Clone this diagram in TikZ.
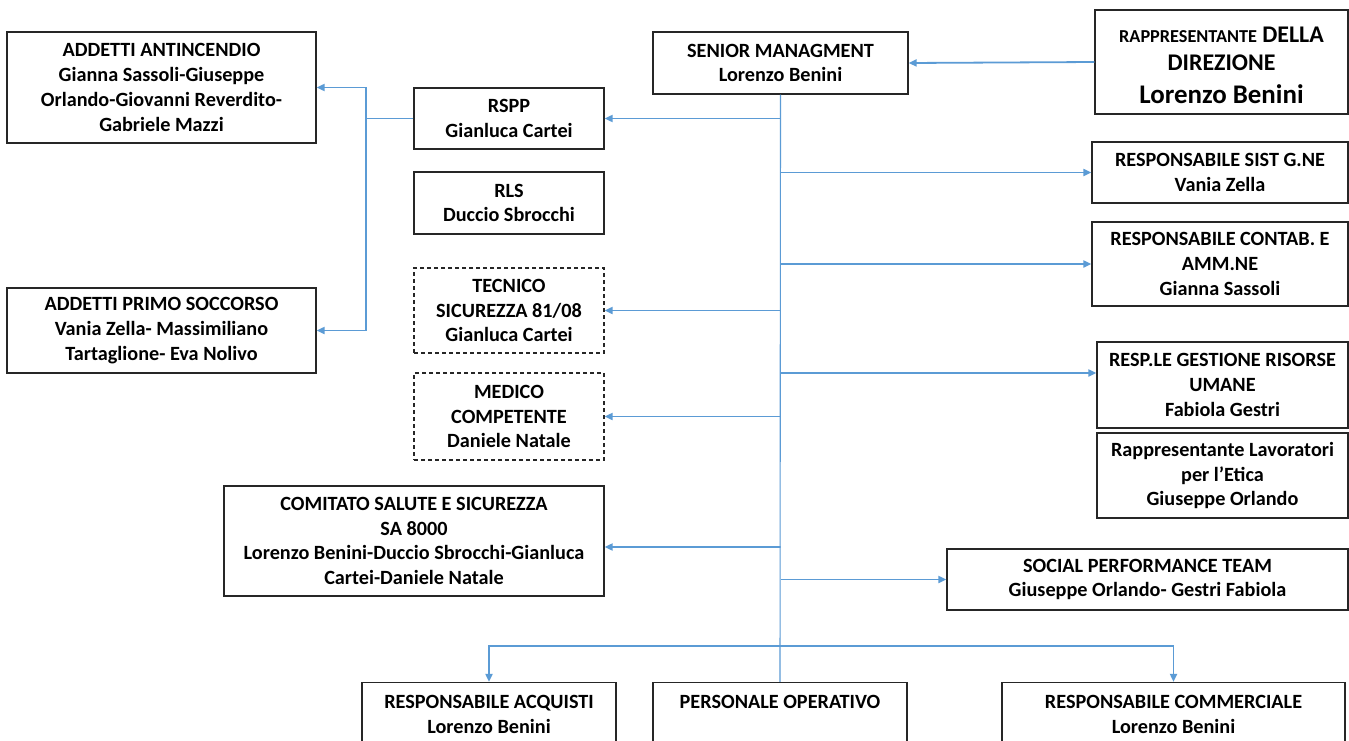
\documentclass[tikz,border=0pt]{standalone}
\usepackage{fontspec}
\setmainfont{Carlito}
\usetikzlibrary{arrows.meta}
\definecolor{lnblue}{RGB}{91,155,213}
\definecolor{boxline}{RGB}{38,38,38}
\tikzset{
  orgbox/.style={draw=boxline, line width=1.2bp, inner sep=0pt, align=center,
    font=\bfseries\fontsize{20.3}{24.8}\selectfont},
  dashbox/.style={orgbox, dash pattern=on 4bp off 3bp},
  arr/.style={draw=lnblue, line width=1.8bp, -{Triangle[length=8bp,width=7bp]}},
  lnk/.style={draw=lnblue, line width=1.8bp},
  trunk/.style={draw=lnblue, line width=1.1bp}
}
\begin{document}
\begin{tikzpicture}[x=1bp,y=-1bp]
\path[use as bounding box, fill=white] (0,0) rectangle (1349,740);
\clip (0,0) rectangle (1349,740);

\node[orgbox, minimum width=255bp, minimum height=62bp] (senior) at (780.5,63) {SENIOR MANAGMENT\\Lorenzo Benini};
\node[orgbox, minimum width=253bp, minimum height=104bp, font=\bfseries\fontsize{24}{28}\selectfont] (rapp) at (1221.5,62)
  {\rule{0pt}{22bp}{\fontsize{18.3}{28}\selectfont RAPPRESENTANTE} DELLA\\
   DIREZIONE\\[5bp]
   {\fontsize{27}{30}\selectfont Lorenzo Benini}};
\node[orgbox, minimum width=309bp, minimum height=111bp] (antin) at (161.5,87.5)
  {ADDETTI ANTINCENDIO\\Gianna Sassoli-Giuseppe\\Orlando-Giovanni Reverdito-\\Gabriele Mazzi};
\node[orgbox, minimum width=190bp, minimum height=61bp] (rspp) at (509,118.5) {RSPP\\Gianluca Cartei};
\node[orgbox, minimum width=190bp, minimum height=62bp] (rls) at (509,203) {RLS\\Duccio Sbrocchi};
\node[dashbox, minimum width=190bp, minimum height=85bp] (tecnico) at (509,310.5) {TECNICO\\SICUREZZA 81/08\\Gianluca Cartei};
\node[dashbox, minimum width=190bp, minimum height=87bp] (medico) at (509,416.5) {MEDICO\\COMPETENTE\\Daniele Natale};
\node[orgbox, minimum width=309bp, minimum height=85bp] (primo) at (161.5,330.5)
  {ADDETTI PRIMO SOCCORSO\\Vania Zella- Massimiliano\\Tartaglione- Eva Nolivo};
\node[orgbox, minimum width=380bp, minimum height=110bp] (comitato) at (414,541)
  {COMITATO SALUTE E SICUREZZA\\SA 8000\\Lorenzo Benini-Duccio Sbrocchi-Gianluca\\Cartei-Daniele Natale};
\node[orgbox, minimum width=256bp, minimum height=61bp] (sist) at (1220,172.5) {RESPONSABILE SIST G.NE\\Vania Zella};
\node[orgbox, minimum width=256bp, minimum height=84bp] (contab) at (1220,264) {RESPONSABILE CONTAB. E\\AMM.NE\\Gianna Sassoli};
\node[orgbox, minimum width=251bp, minimum height=86bp] (gest) at (1222.5,385) {RESP.LE GESTIONE RISORSE\\UMANE\\Fabiola Gestri};
\node[orgbox, minimum width=251bp, minimum height=85bp] (rapplav) at (1222.5,475.5) {Rappresentante Lavoratori\\per l’Etica\\Giuseppe Orlando};
\node[orgbox, minimum width=401bp, minimum height=61bp] (social) at (1147.5,579.5) {SOCIAL PERFORMANCE TEAM\\Giuseppe Orlando- Gestri Fabiola};
\node[orgbox, minimum width=254bp, minimum height=89bp] (acquisti) at (489,727) {RESPONSABILE ACQUISTI\\Lorenzo Benini\\\mbox{}};
\node[orgbox, minimum width=254bp, minimum height=89bp] (personale) at (780,727) {PERSONALE OPERATIVO\\\mbox{}\\\mbox{}};
\node[orgbox, minimum width=343bp, minimum height=89bp] (commerciale) at (1173.5,727) {RESPONSABILE COMMERCIALE\\Lorenzo Benini\\\mbox{}};

\coordinate (jn) at (366,118.5);
\coordinate (bj) at (780,646);

\draw[trunk] (senior.south) -- (personale.north);
\draw[arr] (rapp.west) -- (senior.east);
\draw[arr] (senior.south |- rspp.east) -- (rspp.east);
\draw[lnk] (rspp.west) -- (jn);
\draw[arr] (jn) |- (antin.east);
\draw[arr] (jn) |- (primo.east);
\draw[arr] (senior.south |- sist.west) -- (sist.west);
\draw[arr] (senior.south |- contab.west) -- (contab.west);
\draw[arr] (senior.south |- tecnico.east) -- (tecnico.east);
\draw[arr] (senior.south |- 0,373) -- ([yshift=12bp]gest.west);
\draw[arr] (senior.south |- medico.east) -- (medico.east);
\draw[arr] (senior.south |- 0,547) -- ([yshift=-6bp]comitato.east);
\draw[arr] (senior.south |- social.west) -- (social.west);
\draw[arr] (bj) -| (acquisti.north);
\draw[arr] (bj) -| (commerciale.north);
\end{tikzpicture}
\end{document}
